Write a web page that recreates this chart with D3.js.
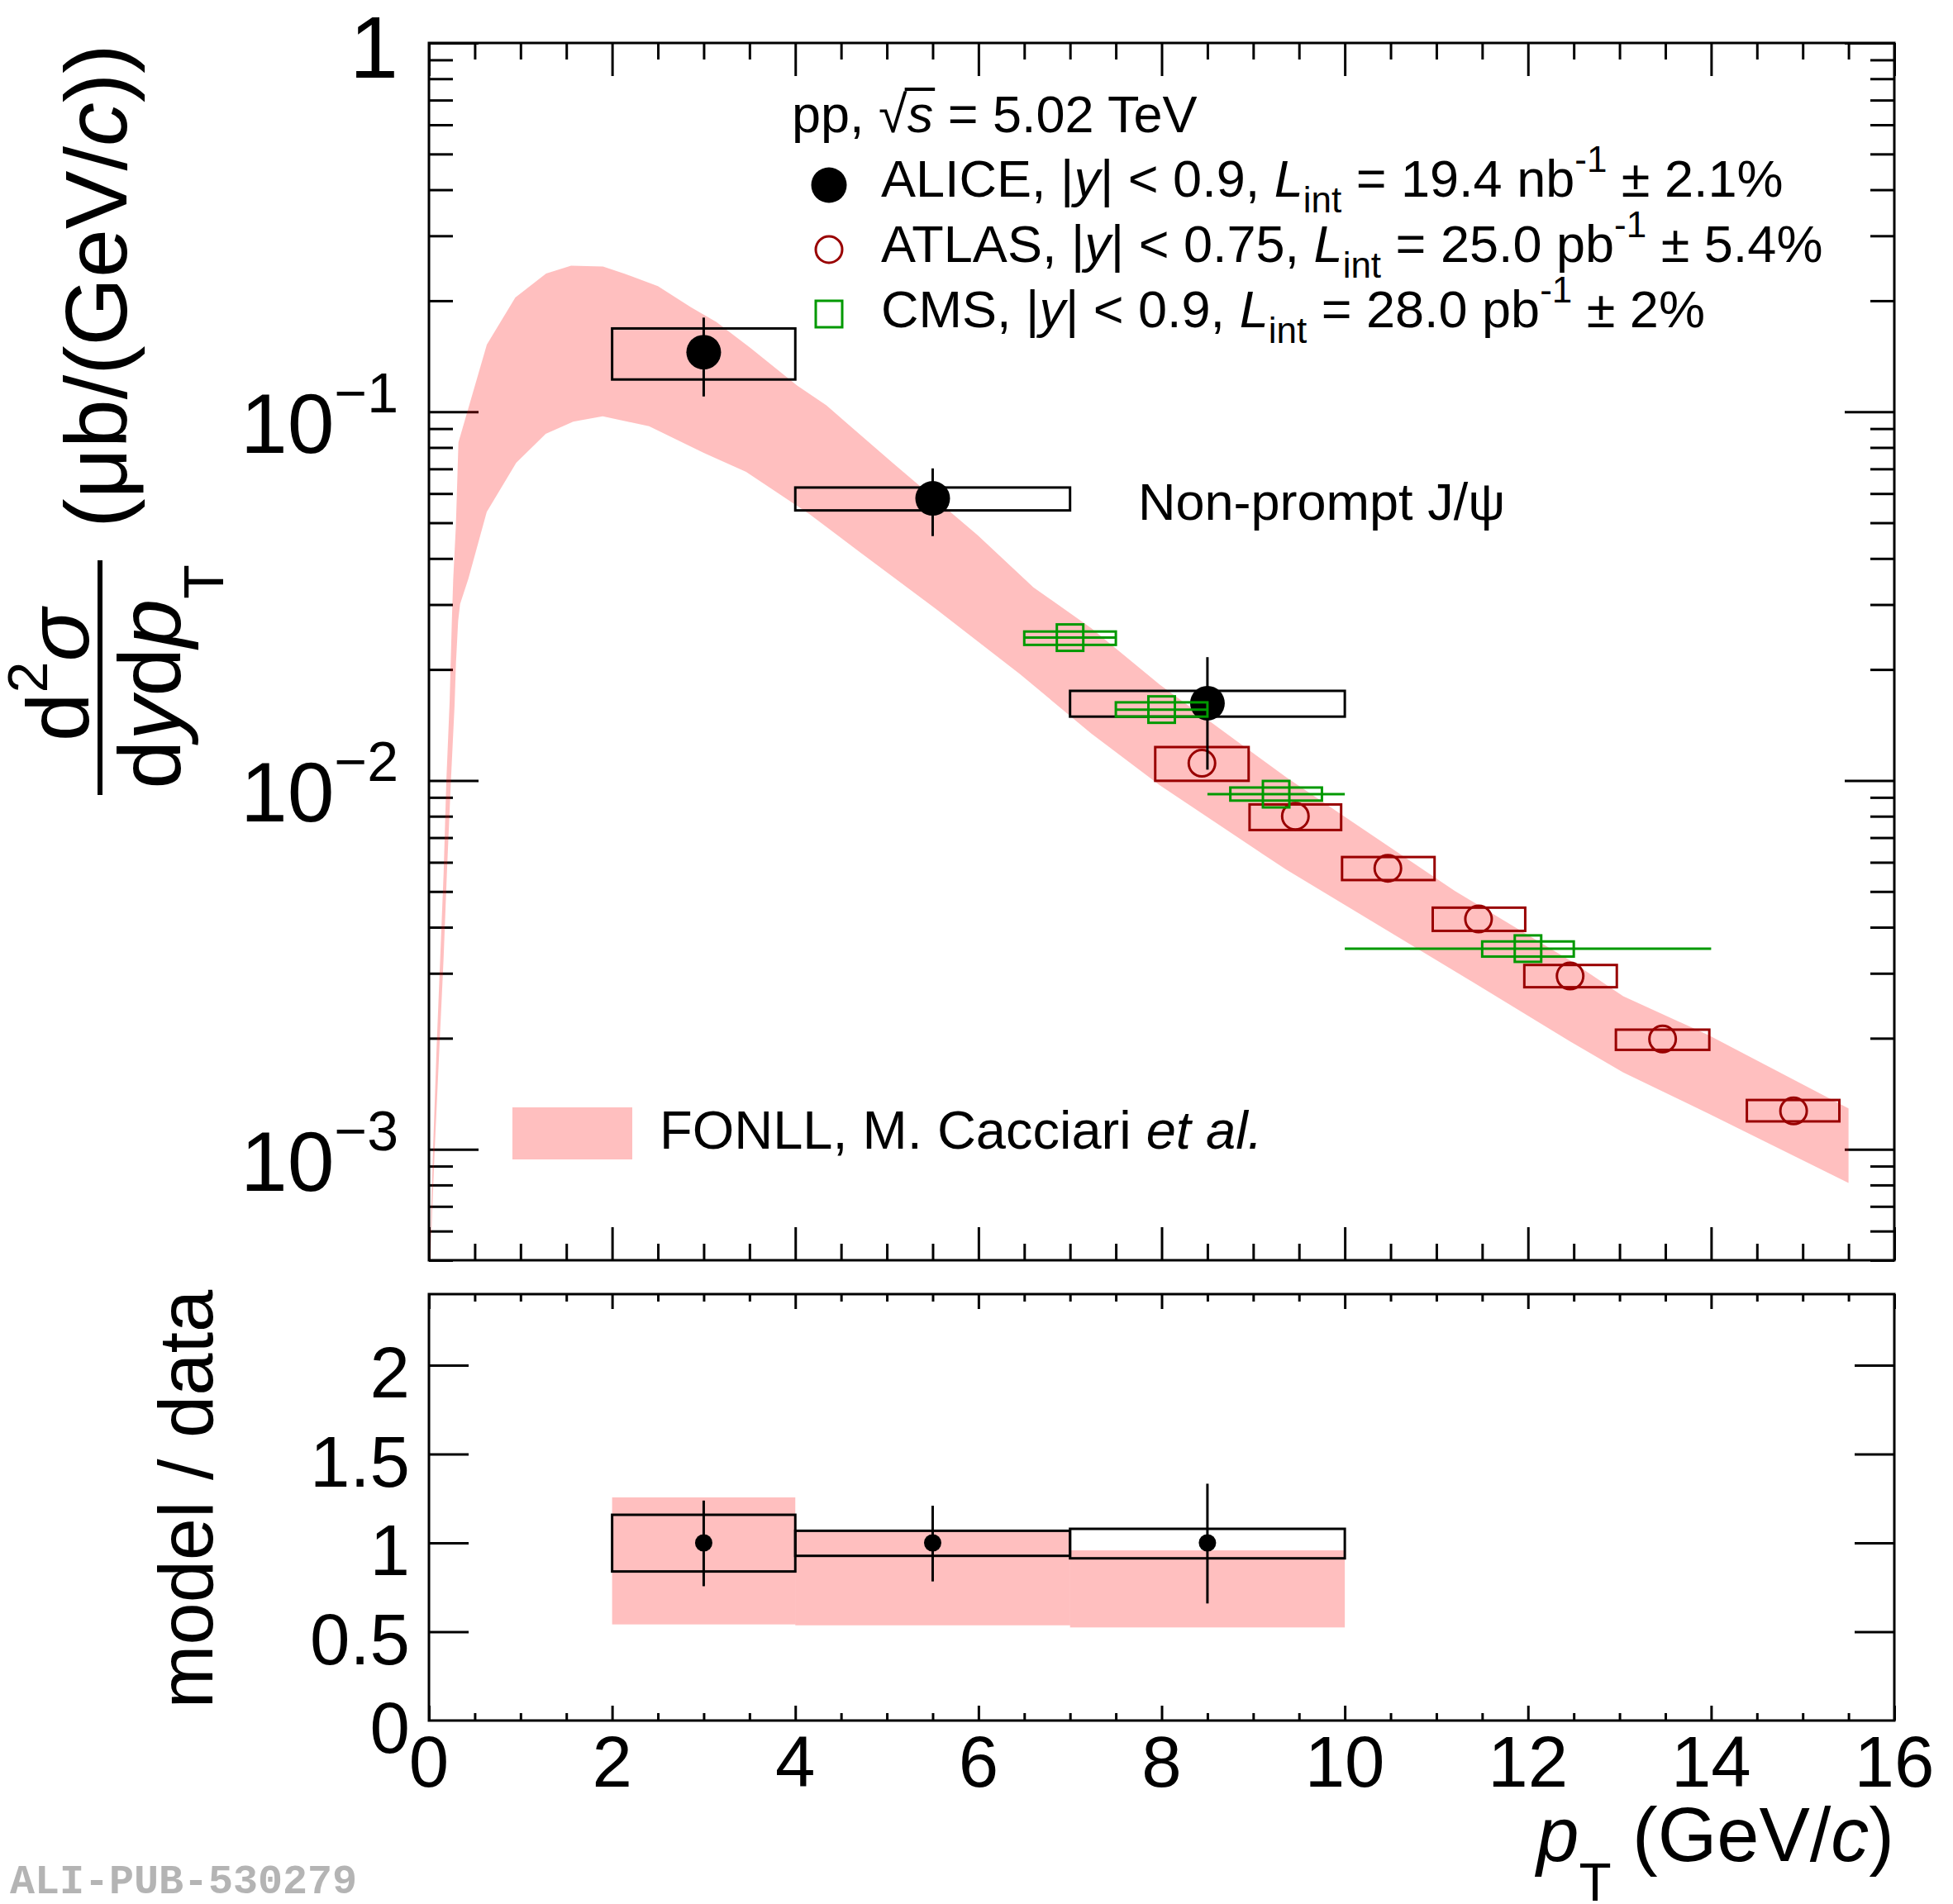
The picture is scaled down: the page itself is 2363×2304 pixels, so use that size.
<!DOCTYPE html>
<html>
<head>
<meta charset="utf-8">
<script src="https://cdn.jsdelivr.net/npm/d3@7"></script>
<style>
  html, body { margin: 0; padding: 0; background: #fff; }
  svg text { font-family: "Liberation Sans", Arial, Helvetica, sans-serif; white-space: pre; }
</style>
</head>
<body>
<svg id="chart" width="2363" height="2304"></svg>
<script>
// ALICE non-prompt J/psi (|y| < 0.9)
const aliceX = [3, 5.5, 8.5];
const aliceBinLo = [2, 4, 7];
const aliceBinHi = [4, 7, 10];
const aliceY = [0.145, 0.0582, 0.0162];
const aliceStatLo = [0.110, 0.0460, 0.0107];
const aliceStatHi = [0.180, 0.0702, 0.0216];
const aliceSystLo = [0.1223, 0.0540, 0.0149];
const aliceSystHi = [0.1682, 0.0623, 0.0175];

// ATLAS (|y| < 0.75)
const atlasX = [8.44, 9.46, 10.47, 11.46, 12.46, 13.47, 14.9];
const atlasY = [0.01114, 0.0080, 0.00578, 0.00421, 0.00295, 0.00199, 0.00127];
const atlasBoxLo = [7.93, 8.96, 9.97, 10.96, 11.96, 12.96, 14.39];
const atlasBoxHi = [8.95, 9.96, 10.98, 11.97, 12.97, 13.98, 15.4];
const atlasSystLo = [0.00998, 0.00734, 0.00537, 0.00391, 0.00275, 0.00186, 0.00119];
const atlasSystHi = [0.01232, 0.00861, 0.0062, 0.00452, 0.00316, 0.00211, 0.00136];

// CMS (|y| < 0.9)
const cmsX = [7.0, 8.0, 9.25, 12.0];
const cmsY = [0.0244, 0.01557, 0.00918, 0.0035];
const cmsXLo = [6.5, 7.5, 8.5, 10];
const cmsXHi = [7.5, 8.5, 10, 14];
const cmsBoxLo = [6.5, 7.5, 8.75, 11.5];
const cmsBoxHi = [7.5, 8.5, 9.75, 12.5];
const cmsSystLo = [0.02332, 0.0149, 0.00882, 0.00333];
const cmsSystHi = [0.02535, 0.01629, 0.00957, 0.00366];

// FONLL band edges (pT, value)
const fonllUpPt = [0, 0.015, 0.045, 0.084, 0.123, 0.16, 0.19, 0.226, 0.25, 0.265, 0.294, 0.322, 0.632, 0.943, 1.279, 1.552, 1.9, 2.13, 2.5, 2.86, 3.14, 3.51, 4.02, 4.34, 5.07, 5.99, 6.6, 7.23, 7.98, 9.36, 11.2, 12.46, 13.04, 13.97, 15.5];
const fonllUpVal = [4.3e-4, 5.7e-4, 1.0e-3, 1.9e-3, 3.3e-3, 5.6e-3, 0.0100, 0.0164, 0.0271, 0.0352, 0.049, 0.0826, 0.152, 0.204, 0.237, 0.249, 0.2476, 0.237, 0.219, 0.192, 0.175, 0.149, 0.1178, 0.104, 0.0724, 0.0463, 0.0334, 0.0259, 0.0182, 0.0102, 0.00502, 0.00325, 0.0026, 0.00204, 0.00129];
const fonllLoPt = [0, 0.024, 0.063, 0.117, 0.16, 0.196, 0.24, 0.28, 0.295, 0.319, 0.34, 0.43, 0.631, 0.953, 1.275, 1.575, 1.897, 2.403, 3.0, 3.463, 4.153, 4.706, 5.534, 6.456, 7.23, 7.98, 9.36, 11.2, 12.46, 13.04, 13.97, 15.5];
const fonllLoVal = [4.0e-4, 5.7e-4, 1.0e-3, 1.95e-3, 3.3e-3, 5.6e-3, 0.0100, 0.0160, 0.0208, 0.0271, 0.0301, 0.0352, 0.0535, 0.0727, 0.0871, 0.094, 0.0972, 0.0913, 0.0773, 0.0687, 0.0528, 0.0416, 0.0292, 0.0194, 0.01342, 0.0097, 0.00573, 0.00304, 0.00196, 0.001616, 0.00125, 0.00081];

// ratio panel
const ratioY = [1, 1, 1];
const ratioStatLo = [0.756, 0.783, 0.659];
const ratioStatHi = [1.238, 1.209, 1.333];
const ratioSystLo = [0.839, 0.927, 0.913];
const ratioSystHi = [1.158, 1.068, 1.079];
const modelLo = [0.541, 0.536, 0.524];
const modelHi = [1.256, 1.065, 0.958];

// ticks / labels
const xMajor = [0, 2, 4, 6, 8, 10, 12, 14, 16];
const xLabels = ['0', '2', '4', '6', '8', '10', '12', '14', '16'];
const yMajor = [1e-3, 1e-2, 1e-1, 1];
const yExp = ['−3', '−2', '−1', ''];
const rMajor = [0.5, 1, 1.5, 2];
const rLabelVals = [0, 0.5, 1, 1.5, 2];
const rLabels = ['0', '0.5', '1', '1.5', '2'];

const X0 = 519, X1 = 2292;
const YU0 = 52, YU1 = 1525, YL0 = 1566, YL1 = 2082;

const BAND = 'rgba(255,0,0,0.25)';
const RED = '#990000';
const GREEN = '#009900';

const svg = d3.select('#chart');
const x = d3.scaleLinear().domain([0, 16]).range([X0, X1]);
const y = d3.scaleLog().domain([5e-4, 1]).range([YU1, YU0]);
const yr = d3.scaleLinear().domain([0, 2.4]).range([YL1, YL0]);

// rich text helper: parts {t, i, dy (abs shift), fs}
function rich(sel, parts) {
  let shift = 0;
  parts.forEach((p) => {
    const target = p.dy || 0;
    const ts = sel.append('tspan').text(p.t).attr('dy', target - shift);
    shift = target;
    if (p.i) ts.attr('font-style', 'italic');
    if (p.fs) ts.attr('font-size', p.fs);
  });
  return sel;
}

function tickGroup(gen, transform, values, size) {
  svg
    .append('g')
    .attr('transform', transform)
    .call(gen.tickValues(values).tickSize(size).tickSizeOuter(0).tickFormat(''))
    .call((g) => {
      g.select('.domain').remove();
      g.selectAll('line').attr('stroke', '#000').attr('stroke-width', 3);
    });
}

// ---- ticks ----
const xMinor = d3.range(0, 16.01, 0.5).filter((v) => v % 2 !== 0);
const yMinor = y.ticks().filter((v) => Math.abs(Math.log10(v) - Math.round(Math.log10(v))) > 1e-6);

// upper pad
tickGroup(d3.axisRight(y), `translate(${X0},0)`, yMajor, 60);
tickGroup(d3.axisRight(y), `translate(${X0},0)`, yMinor, 29);
tickGroup(d3.axisLeft(y), `translate(${X1},0)`, yMajor, 60);
tickGroup(d3.axisLeft(y), `translate(${X1},0)`, yMinor, 29);
tickGroup(d3.axisBottom(x), `translate(0,${YU0})`, xMajor, 40);
tickGroup(d3.axisBottom(x), `translate(0,${YU0})`, xMinor, 20);
tickGroup(d3.axisTop(x), `translate(0,${YU1})`, xMajor, 40);
tickGroup(d3.axisTop(x), `translate(0,${YU1})`, xMinor, 20);
// lower pad
tickGroup(d3.axisRight(yr), `translate(${X0},0)`, rMajor, 48);
tickGroup(d3.axisLeft(yr), `translate(${X1},0)`, rMajor, 48);
tickGroup(d3.axisBottom(x), `translate(0,${YL0})`, xMajor, 18);
tickGroup(d3.axisBottom(x), `translate(0,${YL0})`, xMinor, 9);
tickGroup(d3.axisTop(x), `translate(0,${YL1})`, xMajor, 18);
tickGroup(d3.axisTop(x), `translate(0,${YL1})`, xMinor, 9);

// ---- upper pad content ----
svg.append('clipPath').attr('id', 'clipUp')
  .append('rect').attr('x', X0).attr('y', YU0).attr('width', X1 - X0).attr('height', YU1 - YU0);

const up = svg.append('g').attr('clip-path', 'url(#clipUp)');

const bandPts = fonllUpPt.map((p, i) => [p, fonllUpVal[i]])
  .concat(fonllLoPt.map((p, i) => [p, fonllLoVal[i]]).reverse());
const line = d3.line().x((d) => x(d[0])).y((d) => y(d[1]));
up.append('path').attr('d', line(bandPts) + 'Z').attr('fill', BAND).attr('stroke', 'none');

// ATLAS
atlasX.forEach((v, i) => {
  up.append('rect')
    .attr('x', x(atlasBoxLo[i])).attr('width', x(atlasBoxHi[i]) - x(atlasBoxLo[i]))
    .attr('y', y(atlasSystHi[i])).attr('height', y(atlasSystLo[i]) - y(atlasSystHi[i]))
    .attr('fill', 'none').attr('stroke', RED).attr('stroke-width', 3);
  up.append('circle').attr('cx', x(v)).attr('cy', y(atlasY[i])).attr('r', 16)
    .attr('fill', 'none').attr('stroke', RED).attr('stroke-width', 3);
});

// ALICE
aliceX.forEach((v, i) => {
  up.append('rect')
    .attr('x', x(aliceBinLo[i])).attr('width', x(aliceBinHi[i]) - x(aliceBinLo[i]))
    .attr('y', y(aliceSystHi[i])).attr('height', y(aliceSystLo[i]) - y(aliceSystHi[i]))
    .attr('fill', 'none').attr('stroke', '#000').attr('stroke-width', 3);
  up.append('line').attr('x1', x(v)).attr('x2', x(v))
    .attr('y1', y(aliceStatHi[i])).attr('y2', y(aliceStatLo[i]))
    .attr('stroke', '#000').attr('stroke-width', 3);
  up.append('circle').attr('cx', x(v)).attr('cy', y(aliceY[i])).attr('r', 21).attr('fill', '#000');
});

// CMS
cmsX.forEach((v, i) => {
  up.append('line').attr('x1', x(cmsXLo[i])).attr('x2', x(cmsXHi[i]))
    .attr('y1', y(cmsY[i])).attr('y2', y(cmsY[i]))
    .attr('stroke', GREEN).attr('stroke-width', 3);
  up.append('rect')
    .attr('x', x(cmsBoxLo[i])).attr('width', x(cmsBoxHi[i]) - x(cmsBoxLo[i]))
    .attr('y', y(cmsSystHi[i])).attr('height', y(cmsSystLo[i]) - y(cmsSystHi[i]))
    .attr('fill', 'none').attr('stroke', GREEN).attr('stroke-width', 3);
  up.append('rect').attr('x', x(v) - 16).attr('y', y(cmsY[i]) - 16)
    .attr('width', 32).attr('height', 32)
    .attr('fill', 'none').attr('stroke', GREEN).attr('stroke-width', 3);
});

// ---- lower pad content ----
aliceX.forEach((v, i) => {
  svg.append('rect')
    .attr('x', x(aliceBinLo[i])).attr('width', x(aliceBinHi[i]) - x(aliceBinLo[i]))
    .attr('y', yr(modelHi[i])).attr('height', yr(modelLo[i]) - yr(modelHi[i]))
    .attr('fill', BAND);
});
aliceX.forEach((v, i) => {
  svg.append('rect')
    .attr('x', x(aliceBinLo[i])).attr('width', x(aliceBinHi[i]) - x(aliceBinLo[i]))
    .attr('y', yr(ratioSystHi[i])).attr('height', yr(ratioSystLo[i]) - yr(ratioSystHi[i]))
    .attr('fill', 'none').attr('stroke', '#000').attr('stroke-width', 3);
  svg.append('line').attr('x1', x(v)).attr('x2', x(v))
    .attr('y1', yr(ratioStatHi[i])).attr('y2', yr(ratioStatLo[i]))
    .attr('stroke', '#000').attr('stroke-width', 3);
  svg.append('circle').attr('cx', x(v)).attr('cy', yr(ratioY[i])).attr('r', 10.5).attr('fill', '#000');
});

// frames
[[YU0, YU1], [YL0, YL1]].forEach(([a, b]) => {
  svg.append('rect').attr('x', X0).attr('y', a).attr('width', X1 - X0).attr('height', b - a)
    .attr('fill', 'none').attr('stroke', '#000').attr('stroke-width', 3);
});

// ---- tick labels ----
yMajor.forEach((v, i) => {
  const t = svg.append('text').attr('x', 482).attr('text-anchor', 'end').attr('font-size', 102);
  if (yExp[i] === '') {
    t.attr('y', y(v) + 42).attr('font-size', 106).text('1');
  } else {
    t.attr('y', y(v) + 50);
    rich(t, [{ t: '10' }, { t: yExp[i], dy: -49, fs: 68 }]);
  }
});
rLabelVals.forEach((v, i) => {
  svg.append('text').attr('x', 496).attr('y', yr(v) + 39)
    .attr('text-anchor', 'end').attr('font-size', 87).text(rLabels[i]);
});
xMajor.forEach((v, i) => {
  svg.append('text').attr('x', x(v)).attr('y', 2162)
    .attr('text-anchor', 'middle').attr('font-size', 87).text(xLabels[i]);
});

// ---- axis titles ----
rich(svg.append('text').attr('x', X1).attr('y', 2252).attr('text-anchor', 'end').attr('font-size', 92), [
  { t: 'p', i: 1 }, { t: 'T', dy: 48, fs: 64 }, { t: ' (GeV/' }, { t: 'c', i: 1 }, { t: ')' },
]);

rich(svg.append('text').attr('transform', 'translate(107,817) rotate(-90)')
  .attr('text-anchor', 'middle').attr('font-size', 106), [
  { t: 'd' }, { t: '2', dy: -50, fs: 68 }, { t: 'σ', i: 1 },
]);
rich(svg.append('text').attr('transform', 'translate(218,819) rotate(-90)')
  .attr('text-anchor', 'middle').attr('font-size', 106), [
  { t: 'd' }, { t: 'y', i: 1 }, { t: 'd' }, { t: 'p', i: 1 }, { t: 'T', dy: 52, fs: 68 },
]);
svg.append('line').attr('x1', 121).attr('x2', 121).attr('y1', 678).attr('y2', 962)
  .attr('stroke', '#000').attr('stroke-width', 6);
rich(svg.append('text').attr('transform', 'translate(153,346) rotate(-90)')
  .attr('text-anchor', 'middle').attr('font-size', 106), [
  { t: '(μb/(GeV/' }, { t: 'c', i: 1 }, { t: '))' },
]);
svg.append('text').attr('transform', 'translate(257,1814) rotate(-90)')
  .attr('text-anchor', 'middle').attr('font-size', 92).text('model / data');

// ---- legend ----
const LFS = 63;
const energy = rich(svg.append('text').attr('x', 958).attr('y', 160).attr('font-size', LFS), [
  { t: 'pp, √' }, { t: 's', i: 1 }, { t: ' = 5.02 TeV' },
]);
// radical bar over s
{
  const node = energy.node();
  const rootEnd = node.getEndPositionOfChar(4).x;
  const sEnd = node.getEndPositionOfChar(5).x;
  svg.append('line').attr('x1', rootEnd - 3).attr('x2', sEnd + 2)
    .attr('y1', 108).attr('y2', 108).attr('stroke', '#000').attr('stroke-width', 4);
}
svg.append('circle').attr('cx', 1003).attr('cy', 224).attr('r', 21.5).attr('fill', '#000');
rich(svg.append('text').attr('x', 1066).attr('y', 238).attr('font-size', LFS), [
  { t: 'ALICE, |' }, { t: 'y', i: 1 }, { t: '| < 0.9, ' }, { t: 'L', i: 1 }, { t: 'int', dy: 19, fs: 44 },
  { t: ' = 19.4 nb' }, { t: '-1', dy: -30, fs: 44 }, { t: ' ± 2.1%' },
]);
svg.append('circle').attr('cx', 1003).attr('cy', 302).attr('r', 16)
  .attr('fill', 'none').attr('stroke', RED).attr('stroke-width', 3);
rich(svg.append('text').attr('x', 1066).attr('y', 317).attr('font-size', LFS), [
  { t: 'ATLAS, |' }, { t: 'y', i: 1 }, { t: '| < 0.75, ' }, { t: 'L', i: 1 }, { t: 'int', dy: 19, fs: 44 },
  { t: ' = 25.0 pb' }, { t: '-1', dy: -30, fs: 44 }, { t: ' ± 5.4%' },
]);
svg.append('rect').attr('x', 1003 - 16).attr('y', 380 - 16).attr('width', 32).attr('height', 32)
  .attr('fill', 'none').attr('stroke', GREEN).attr('stroke-width', 3);
rich(svg.append('text').attr('x', 1066).attr('y', 396).attr('font-size', LFS), [
  { t: 'CMS, |' }, { t: 'y', i: 1 }, { t: '| < 0.9, ' }, { t: 'L', i: 1 }, { t: 'int', dy: 19, fs: 44 },
  { t: ' = 28.0 pb' }, { t: '-1', dy: -30, fs: 44 }, { t: ' ± 2%' },
]);

svg.append('text').attr('x', 1377).attr('y', 629).attr('font-size', LFS).text('Non-prompt J/ψ');

svg.append('rect').attr('x', 620).attr('y', 1340).attr('width', 145).attr('height', 63).attr('fill', BAND);
rich(svg.append('text').attr('x', 798).attr('y', 1390).attr('font-size', 65), [
  { t: 'FONLL, M. Cacciari ' }, { t: 'et al.', i: 1 },
]);

// watermark
svg.append('text').attr('x', 12).attr('y', 2291)
  .style('font-family', '"Liberation Mono", "Courier New", monospace')
  .attr('font-weight', 'bold').attr('font-size', 50).attr('fill', '#b4b4b4')
  .text('ALI-PUB-530279');
</script>
</body>
</html>
